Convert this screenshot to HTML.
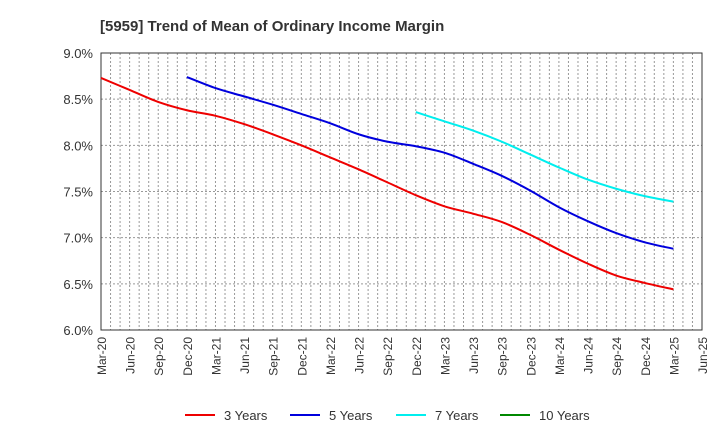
<!DOCTYPE html>
<html><head><meta charset="utf-8"><style>body{margin:0;background:#fff}svg{display:block;font-family:"Liberation Sans",sans-serif}</style></head>
<body>
<svg id="c" width="720" height="440"></svg>
<script>
const xLabels=["Mar-20","Jun-20","Sep-20","Dec-20","Mar-21","Jun-21","Sep-21","Dec-21","Mar-22","Jun-22","Sep-22","Dec-22","Mar-23","Jun-23","Sep-23","Dec-23","Mar-24","Jun-24","Sep-24","Dec-24","Mar-25","Jun-25"];
const yTicks=[6.0,6.5,7.0,7.5,8.0,8.5,9.0];
const s3=[8.73,8.60,8.47,8.38,8.32,8.23,8.12,8.00,7.87,7.74,7.60,7.46,7.34,7.26,7.17,7.03,6.87,6.72,6.59,6.51,6.44];
const s5=[null,null,null,8.74,8.62,8.53,8.44,8.34,8.24,8.12,8.04,7.99,7.92,7.80,7.67,7.51,7.33,7.18,7.05,6.95,6.88];
const s7=[null,null,null,null,null,null,null,null,null,null,null,8.36,8.26,8.16,8.04,7.90,7.76,7.63,7.53,7.45,7.39];
const s10=[];
const seriesNames=["3 Years","5 Years","7 Years","10 Years"];
const colors=["#ee0000","#0000dd","#00eeee","#008800"];
const L=101,R=702,T=53,B=330;
const xq=i=>L+i*(R-L)/21, xm=m=>L+m*(R-L)/63;
const y=v=>B-(v-6)/3*(B-T);
const svg=document.getElementById('c');const NS="http://www.w3.org/2000/svg";
function mk(t,a,p){const e=document.createElementNS(NS,t);for(const k in a)e.setAttribute(k,a[k]);(p||svg).appendChild(e);return e;}
let e=mk('text',{x:100,y:31,'font-size':15,'font-weight':'bold',fill:'#333'});e.textContent="[5959]  Trend of Mean of Ordinary Income Margin";


for(let m=1;m<63;m++){e=mk('line',{x1:xm(m),x2:xm(m),y1:T,y2:B,stroke:'#999','stroke-dasharray':'2,2'});

}
yTicks.forEach(v=>{e=mk('line',{x1:L,x2:R,y1:y(v),y2:y(v),stroke:'#999','stroke-dasharray':'2,2'});


e=mk('text',{x:93,y:y(v)+5,'font-size':13,'text-anchor':'end',fill:'#333'});e.textContent=v.toFixed(1)+"%";

});
e=mk('rect',{x:L,y:T,width:R-L,height:B-T,fill:'none',stroke:'#333'});


xLabels.forEach((l,i)=>{e=mk('text',{transform:`translate(${xq(i)+5},${B+7}) rotate(-90)`,'font-size':12,'text-anchor':'end',fill:'#333'});e.textContent=l;

});
function path(d){const p=d.map((v,i)=>v==null?null:[xq(i),y(v)]).filter(Boolean);if(p.length<2)return"";
let s=`M${p[0][0]},${p[0][1]}`;for(let i=0;i<p.length-1;i++){const p0=p[i-1]||p[i],p1=p[i],p2=p[i+1],p3=p[i+2]||p2;
s+=`C${p1[0]+(p2[0]-p0[0])/6},${p1[1]+(p2[1]-p0[1])/6} ${p2[0]-(p3[0]-p1[0])/6},${p2[1]-(p3[1]-p1[1])/6} ${p2[0]},${p2[1]}`;}return s;}
[s3,s5,s7,s10].forEach((d,k)=>{const s=path(d);if(!s)return;e=mk('path',{d:s,fill:'none',stroke:colors[k],'stroke-width':2});

});
const lx=[185,290,396,500];
seriesNames.forEach((n,k)=>{const g=mk('g',{});


mk('line',{x1:lx[k],x2:lx[k]+30,y1:415,y2:415,stroke:colors[k],'stroke-width':2},g);
const t=mk('text',{x:lx[k]+39,y:420,'font-size':13,fill:'#333'},g);t.textContent=n;});
</script>
</body></html>
